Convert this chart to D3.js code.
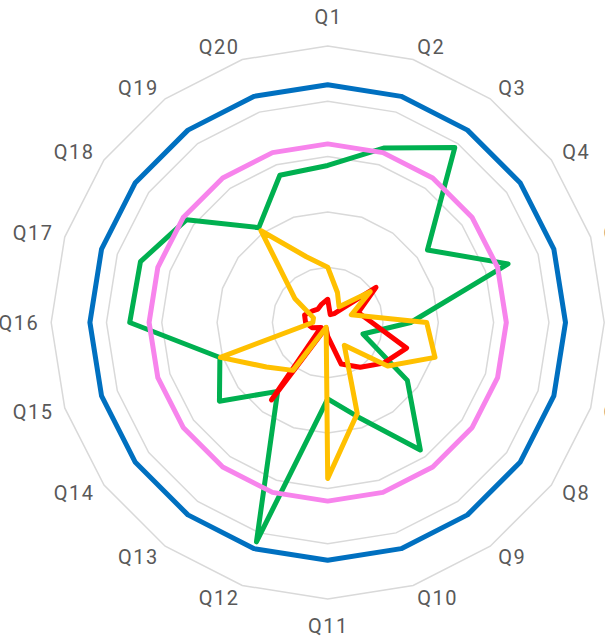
<!DOCTYPE html>
<html>
<head>
<meta charset="utf-8">
<script src="https://cdn.jsdelivr.net/npm/d3@7"></script>
<style>
  html, body { margin: 0; padding: 0; background: #ffffff; }
  svg { display: block; }
</style>
</head>
<body>
<svg id="chart" width="605" height="638"></svg>
<script>
// Axis categories, clockwise from the top
const categories = ["Q1", "Q2", "Q3", "Q4", "Q5", "Q6", "Q7", "Q8", "Q9", "Q10",
                    "Q11", "Q12", "Q13", "Q14", "Q15", "Q16", "Q17", "Q18", "Q19", "Q20"];

// Concentric grid levels
const gridLevels = [1, 2, 3, 4, 5];

// Series values, one per category
const blueValues   = [4.3, 4.3, 4.3, 4.3, 4.3, 4.3, 4.3, 4.3, 4.3, 4.3,
                      4.3, 4.3, 4.3, 4.3, 4.3, 4.3, 4.3, 4.3, 4.3, 4.3];
const pinkValues   = [3.23, 3.23, 3.23, 3.23, 3.23, 3.23, 3.23, 3.23, 3.23, 3.23,
                      3.23, 3.23, 3.23, 3.23, 3.23, 3.23, 3.23, 3.23, 3.23, 3.23];
const greenValues  = [2.84, 3.32, 3.91, 2.23, 3.43, 1.5, 0.67, 1.78, 2.85, 1.8,
                      1.38, 4.17, 1.54, 2.42, 2.05, 3.58, 3.56, 3.16, 2.12, 2.80];
const yellowValues = [1.0, 0.57, 0.35, 0.95, 0.45, 1.79, 2.04, 1.34, 0.51, 1.73,
                      2.82, 0.09, 1.07, 1.37, 2.04, 0.27, 0.27, 0.73, 2.05, 1.25];
const redValues    = [0.42, 0.15, 0.2, 1.08, 0.58, 0.8, 1.5, 1.25, 1.0, 0.79,
                      0.25, 0.1, 1.73, 0.15, 0.3, 0.4, 0.44, 0.35, 0.3, 0.35];

// Drawing order: later entries sit on top
const series = [
  { name: "green",  values: greenValues,  color: "#00B050" },
  { name: "red",    values: redValues,    color: "#FF0000" },
  { name: "yellow", values: yellowValues, color: "#FFC000" },
  { name: "pink",   values: pinkValues,   color: "#F784EC" },
  { name: "blue",   values: blueValues,   color: "#0070C0" }
];

const cx = 327.7, cy = 322.5;
const outerR = 276.5;
const maxValue = 5;

const r = d3.scaleLinear().domain([0, maxValue]).range([0, outerR]);
const angle = d3.scaleLinear().domain([0, categories.length]).range([0, 2 * Math.PI]);

const svg = d3.select("#chart");
const g = svg.append("g").attr("transform", `translate(${cx},${cy})`);

const radial = d3.lineRadial()
  .angle((d, i) => angle(i))
  .radius(d => r(d))
  .curve(d3.curveLinearClosed);

// Grid polygons
g.append("g").attr("class", "grid")
  .selectAll("path")
  .data(gridLevels)
  .join("path")
  .attr("d", lvl => radial(categories.map(() => lvl)))
  .attr("fill", "none")
  .attr("stroke", "#D9D9D9")
  .attr("stroke-width", 1.5);

// Series outlines
g.append("g").attr("class", "series")
  .selectAll("path")
  .data(series)
  .join("path")
  .attr("d", s => radial(s.values))
  .attr("fill", "none")
  .attr("stroke", s => s.color)
  .attr("stroke-width", 5)
  .attr("stroke-linejoin", "round");

// Category labels around the outer ring
const labelR = outerR + 13.5;
g.append("g").attr("class", "labels")
  .selectAll("text")
  .data(categories)
  .join("text")
  .each(function(name, i) {
    const a = angle(i);
    const sx = Math.sin(a), cy0 = -Math.cos(a);
    const px = labelR * sx, py = labelR * cy0;
    const t = d3.select(this);
    let anchor, x = px, y = py + 7;
    if (Math.abs(sx) < 1e-6) {
      anchor = "middle";
      x = px + 0.75;
      y = cy0 < 0 ? py - 9 : py + 20.5;
    } else if (sx > 0) {
      anchor = "start";
    } else {
      anchor = "end";
      x = px + 1.5;
    }
    t.attr("x", x).attr("y", y).attr("text-anchor", anchor).text(name);
  })
  .attr("font-family", "Roboto, 'Liberation Sans', Arial, sans-serif")
  .attr("font-size", 20)
  .attr("letter-spacing", 1.5)
  .attr("fill", "#595959");
</script>
</body>
</html>
